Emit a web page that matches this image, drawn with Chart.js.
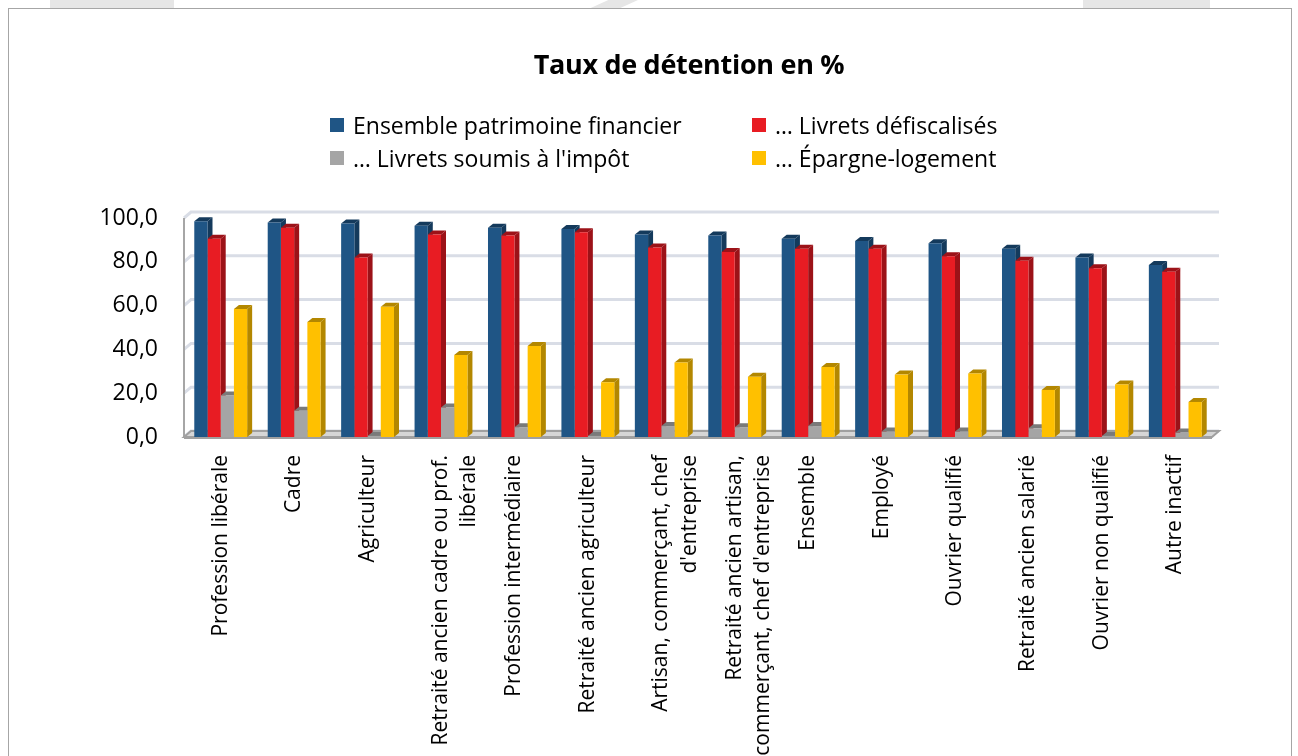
<!DOCTYPE html>
<html lang="fr">
<head>
<meta charset="utf-8">
<title>Taux de détention en %</title>
<script src="https://cdn.jsdelivr.net/npm/chart.js@4.4.1/dist/chart.umd.min.js"></script>
<style>
  html, body { margin: 0; padding: 0; background: #fff; overflow: hidden; }
  .deco { position: absolute; top: 0; height: 9px; background: #e6e6e6; }
  #frame {
    position: absolute; left: 8px; top: 8px;
    width: 1282px; height: 800px;
    border: 1px solid #a6a6a6;
    background: #fff;
    overflow: hidden;
    font-family: "Open Sans", Lato, sans-serif;
  }
  #title {
    position: absolute; left: 39px; width: 1282px; top: 36px;
    text-align: center; font-size: 27px; font-weight: bold; color: #000;
    letter-spacing: -0.3px;
  }
  #legend {
    position: absolute; left: 321px; top: 102px;
    display: grid; grid-template-columns: 422px auto; row-gap: 5px;
    font-size: 23px; color: #000;
  }
  #legend .item { display: flex; align-items: center; height: 28px; white-space: nowrap; }
  #legend .box { width: 14px; height: 14px; margin-right: 9px; }
</style>
</head>
<body>
<div class="deco" style="left:50px;width:124px"></div>
<div class="deco" style="left:572px;width:66px;clip-path:polygon(25% 100%,55% 0,100% 0,70% 100%)"></div>
<div class="deco" style="left:1083px;width:127px"></div>
<div id="frame">
  <canvas id="chart" width="1282" height="800"></canvas>
  <div id="title">Taux de détention en %</div>
  <div id="legend"></div>
</div>
<script>
// ========================
// Données
// ========================
const categories = [
  "Profession libérale",
  "Cadre",
  "Agriculteur",
  ["Retraité ancien cadre ou prof.", "libérale"],
  "Profession intermédiaire",
  "Retraité ancien agriculteur",
  ["Artisan, commerçant, chef", "d'entreprise"],
  ["Retraité ancien artisan,", "commerçant, chef d'entreprise"],
  "Ensemble",
  "Employé",
  "Ouvrier qualifié",
  "Retraité ancien salarié",
  "Ouvrier non qualifié",
  "Autre inactif"
];

const seriesNames = [
  "Ensemble patrimoine financier",
  "… Livrets défiscalisés",
  "… Livrets soumis à l'impôt",
  "… Épargne-logement"
];

const ensemble   = [98.5, 98.0, 97.5, 96.5, 95.5, 95.0, 92.5, 92.0, 90.5, 89.5, 88.5, 86.0, 82.0, 78.5];
const defiscal   = [90.5, 95.5, 82.0, 92.5, 92.0, 93.5, 86.5, 84.5, 86.0, 86.0, 82.5, 80.5, 77.0, 75.5];
const soumis     = [19.0, 12.0, 0.5, 13.5, 4.5, 0.5, 5.0, 4.5, 5.0, 2.5, 2.5, 4.0, 0.5, 2.0];
const epargneLog = [58.5, 52.5, 59.5, 37.5, 41.5, 25.0, 34.0, 27.5, 32.0, 28.5, 29.0, 21.5, 24.0, 16.0];

const yTicks = [0, 20, 40, 60, 80, 100];

const FONT = "'Open Sans', Lato, sans-serif";
const frontColors = ["#1f5585", "#e81c23", "#a5a5a5", "#ffc000"];
const sideColors  = ["#143a5c", "#9c1218", "#7a7a7a", "#b38700"];

// ========================
// Effet 3D (murs, sol, faces des barres)
// ========================
const WALL_DX = 7, WALL_DY = 6;
const BAR_DX = 5, BAR_DY = 4;

function poly(ctx, pts, fill, stroke, lw) {
  ctx.beginPath();
  ctx.moveTo(pts[0][0], pts[0][1]);
  for (let i = 1; i < pts.length; i++) ctx.lineTo(pts[i][0], pts[i][1]);
  ctx.closePath();
  if (fill) { ctx.fillStyle = fill; ctx.fill(); }
  if (stroke) { ctx.strokeStyle = stroke; ctx.lineWidth = lw || 1; ctx.stroke(); }
}

const pseudo3d = {
  id: "pseudo3d",
  beforeDatasetsDraw(chart) {
    const { ctx, chartArea: a, scales: { y } } = chart;
    ctx.save();

    // quadrillage sur le mur du fond
    ctx.strokeStyle = "#d9dde6";
    ctx.lineWidth = 3;
    yTicks.forEach(v => {
      const py = y.getPixelForValue(v);
      ctx.beginPath();
      ctx.moveTo(a.left, py);
      ctx.lineTo(a.left + WALL_DX, py - WALL_DY);
      ctx.lineTo(a.right + WALL_DX, py - WALL_DY);
      ctx.stroke();
    });

    // mur gauche
    ctx.strokeStyle = "#a6a6a6";
    ctx.lineWidth = 2;
    ctx.beginPath();
    ctx.moveTo(a.left, y.getPixelForValue(100));
    ctx.lineTo(a.left, a.bottom);
    ctx.stroke();

    // sol
    poly(ctx, [
      [a.left, a.bottom], [a.left + WALL_DX, a.bottom - WALL_DY],
      [a.right + WALL_DX, a.bottom - WALL_DY], [a.right, a.bottom]
    ], "#d6d6d6", "#a0a0a0", 2);
    ctx.fillStyle = "#a0a0a0";
    ctx.fillRect(a.left, a.bottom - 1, a.right - a.left, 3);

    const metas = chart.getSortedVisibleDatasetMetas();
    // faces latérales
    metas.forEach(meta => {
      const side = sideColors[meta.index];
      meta.data.forEach(el => {
        const { x, y: top, width, base } = el.getProps(["x", "y", "width", "base"], true);
        const r = x + width / 2;
        poly(ctx, [[r, top], [r + BAR_DX, top - BAR_DY], [r + BAR_DX, base - BAR_DY], [r, base]], side);
      });
    });
    // dessus
    metas.forEach(meta => {
      const side = sideColors[meta.index];
      meta.data.forEach(el => {
        const { x, y: top, width } = el.getProps(["x", "y", "width"], true);
        const l = x - width / 2, r = x + width / 2;
        poly(ctx, [[l, top], [l + BAR_DX, top - BAR_DY], [r + BAR_DX, top - BAR_DY], [r, top]], side);
      });
    });
    ctx.restore();
  }
};

// ========================
// Graphique
// ========================
const datasets = [ensemble, defiscal, soumis, epargneLog].map((data, i) => ({
  label: seriesNames[i],
  data: data,
  backgroundColor: frontColors[i],
  borderWidth: 0,
  barPercentage: 1,
  categoryPercentage: 0.72
}));

const chart = new Chart(document.getElementById("chart").getContext("2d"), {
  type: "bar",
  data: { labels: categories, datasets: datasets },
  options: {
    responsive: false,
    animation: false,
    layout: { padding: { left: 0, right: 79, top: 209, bottom: 0 } },
    plugins: {
      legend: { display: false },
      tooltip: { enabled: false },
      title: { display: false }
    },
    scales: {
      x: {
        grid: { display: false },
        border: { display: false },
        ticks: {
          autoSkip: false,
          minRotation: 90,
          maxRotation: 90,
          color: "#000",
          font: { family: FONT, size: 21, lineHeight: 1.35 },
          padding: 10
        },
        afterFit: scale => { scale.height = 800 - 428; }
      },
      y: {
        min: 0,
        max: 100,
        grid: { display: false },
        border: { display: false },
        afterBuildTicks: scale => { scale.ticks = yTicks.map(v => ({ value: v })); },
        ticks: {
          color: "#000",
          font: { family: FONT, size: 23 },
          padding: 18,
          callback: v => v.toFixed(1).replace(".", ",")
        },
        afterFit: scale => { scale.width = 175; }
      }
    }
  },
  plugins: [pseudo3d]
});

// Légende sur deux colonnes
const legend = document.getElementById("legend");
chart.data.datasets.forEach(ds => {
  const item = document.createElement("div");
  item.className = "item";
  const box = document.createElement("span");
  box.className = "box";
  box.style.background = ds.backgroundColor;
  item.appendChild(box);
  item.appendChild(document.createTextNode(ds.label));
  legend.appendChild(item);
});
</script>
</body>
</html>
